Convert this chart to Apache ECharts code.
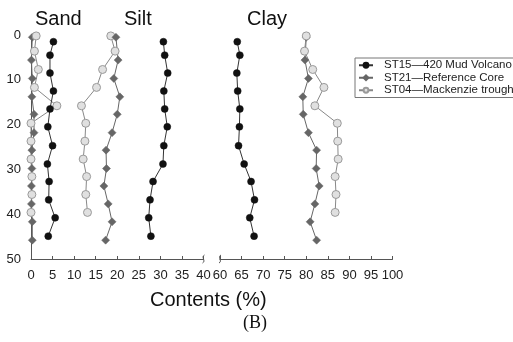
<!DOCTYPE html>
<html>
<head>
<meta charset="utf-8">
<script src="https://cdn.jsdelivr.net/npm/echarts@6/dist/echarts.min.js"></script>
<style>
  html, body { margin: 0; padding: 0; background: #fff; }
  #chart { width: 513px; height: 342px; }
</style>
</head>
<body>
<div id="chart"></div>
<script>
// sampling depths (cm) per core
const depthST15 = [1.5, 4.5, 8.5, 12.5, 16.5, 20.5, 24.7, 28.8, 32.7, 36.8, 40.8, 44.9];
const depthST21 = [0.5, 5.6, 9.7, 13.8, 17.7, 21.8, 25.7, 29.8, 33.7, 37.7, 41.7, 45.8];
const depthST04 = [0.2, 3.6, 7.7, 11.7, 15.8, 19.7, 23.7, 27.7, 31.6, 35.6, 39.6];

// contents (%)
const sandST15 = [5.2, 4.4, 4.4, 5.2, 4.4, 3.9, 5.0, 3.8, 4.2, 4.1, 5.6, 4.0];
const siltST15 = [30.7, 31.0, 31.7, 30.8, 31.0, 31.6, 30.8, 30.6, 28.3, 27.6, 27.3, 27.8];
const clayST15 = [64.0, 64.6, 63.9, 64.1, 64.6, 64.5, 64.3, 65.6, 67.2, 68.0, 66.9, 67.9];

const sandST21 = [0.3, 0.1, 0.3, 0.2, 0.7, 0.7, 0.2, 0.2, 0.1, 0.1, 0.3, 0.3];
const siltST21 = [19.7, 20.2, 19.2, 20.6, 20.0, 18.8, 17.4, 17.5, 16.9, 17.9, 18.8, 17.3];
const clayST21 = [80.0, 79.7, 80.5, 79.2, 79.3, 80.5, 82.4, 82.3, 83.0, 82.0, 80.9, 82.4];

const sandST04 = [1.2, 0.8, 1.7, 0.8, 6.0, 0.0, 0.0, 0.0, 0.2, 0.2, 0.0];
const siltST04 = [18.5, 19.5, 16.6, 15.2, 11.7, 12.7, 12.5, 12.1, 12.9, 12.7, 13.1];
const clayST04 = [80.0, 79.6, 81.5, 84.1, 82.0, 87.2, 87.3, 87.4, 86.7, 86.9, 86.7];

const nameST15 = 'ST15\u2014420 Mud Volcano';
const nameST21 = 'ST21\u2014Reference Core';
const nameST04 = 'ST04\u2014Mackenzie trough';

const groupTitles = ['Sand', 'Silt', 'Clay'];
const yTicks = [0, 10, 20, 30, 40, 50];

const pair = (xs, ys) => xs.map((v, i) => [v, ys[i]]);

const font = 'Liberation Sans, Arial, sans-serif';

const styles = {
  ST15: {
    symbol: 'circle', symbolSize: 7,
    itemStyle: { color: '#111', borderColor: '#111', borderWidth: 0.5 },
    lineStyle: { color: '#333', width: 1 }
  },
  ST21: {
    symbol: 'diamond', symbolSize: 8,
    itemStyle: { color: '#666', borderColor: '#666', borderWidth: 0.5 },
    lineStyle: { color: '#666', width: 1 }
  },
  ST04: {
    symbol: 'circle', symbolSize: 8,
    itemStyle: { color: '#e0e0e0', borderColor: '#9a9a9a', borderWidth: 1 },
    lineStyle: { color: '#888', width: 1 }
  }
};

const mk = (name, key, xs, ys, axis) => Object.assign({
  name: name,
  type: 'line',
  xAxisIndex: axis,
  yAxisIndex: axis,
  data: pair(xs, ys),
  animation: false,
  z: key === 'ST15' ? 4 : 3
}, styles[key]);

const series = [
  mk(nameST21, 'ST21', sandST21, depthST21, 0),
  mk(nameST04, 'ST04', sandST04, depthST04, 0),
  mk(nameST15, 'ST15', sandST15, depthST15, 0),
  mk(nameST04, 'ST04', siltST04, depthST04, 0),
  mk(nameST21, 'ST21', siltST21, depthST21, 0),
  mk(nameST15, 'ST15', siltST15, depthST15, 0),
  mk(nameST15, 'ST15', clayST15, depthST15, 1),
  mk(nameST21, 'ST21', clayST21, depthST21, 1),
  mk(nameST04, 'ST04', clayST04, depthST04, 1)
];

const axisLabel = { color: '#222', fontSize: 13, fontFamily: font, margin: 10 };
const axisLine = { show: true, onZero: false, lineStyle: { color: '#555', width: 1 } };

const chart = echarts.init(document.getElementById('chart'));

const option = {
  backgroundColor: '#fff',
  animation: false,
  title: [
    { text: groupTitles[0], left: 35, top: 9 },
    { text: groupTitles[1], left: 124, top: 9 },
    { text: groupTitles[2], left: 247, top: 9 },
    { text: 'Contents (%)', left: 150, top: 290 },
    { text: '(B)', left: 243, top: 314,
      textStyle: { fontFamily: 'Liberation Serif, Times New Roman, serif', fontSize: 18, fontWeight: 'normal', color: '#111' } }
  ].map(t => Object.assign({ padding: 0 }, t, {
    textStyle: t.textStyle || { fontFamily: font, fontSize: 20, fontWeight: 'normal', color: '#111' }
  })),
  legend: {
    orient: 'vertical',
    left: 355,
    top: 58,
    data: [nameST15, nameST21, nameST04],
    borderColor: '#777',
    borderWidth: 1,
    padding: [1, 4, 1, 3],
    itemWidth: 14,
    itemHeight: 6,
    itemGap: 0,
    textStyle: { fontFamily: font, fontSize: 11.5, color: '#222', lineHeight: 12.5, padding: [0, 0, 0, 6] }
  },
  grid: [
    { left: 31, top: 35, width: 172.5, height: 224 },
    { left: 220, top: 35, width: 172.5, height: 224 }
  ],
  xAxis: [
    {
      type: 'value', gridIndex: 0, min: 0, max: 40, interval: 5,
      position: 'bottom',
      axisLine: axisLine,
      axisTick: { show: true, inside: true, length: 3, lineStyle: { color: '#555' } },
      axisLabel: axisLabel,
      splitLine: { show: false }
    },
    {
      type: 'value', gridIndex: 1, min: 60, max: 100, interval: 5,
      position: 'bottom',
      axisLine: axisLine,
      axisTick: { show: true, inside: true, length: 3, lineStyle: { color: '#555' } },
      axisLabel: axisLabel,
      splitLine: { show: false }
    }
  ],
  yAxis: [
    {
      type: 'value', gridIndex: 0, min: yTicks[0], max: yTicks[yTicks.length - 1], interval: 10,
      inverse: true,
      axisLine: axisLine,
      axisTick: { show: false },
      axisLabel: axisLabel,
      splitLine: { show: false }
    },
    {
      type: 'value', gridIndex: 1, min: 0, max: 50, interval: 10,
      inverse: true, show: false,
      splitLine: { show: false }
    }
  ],
  series: series
};

chart.setOption(option);

// axis break squiggles at 40 and 60
const squiggle = (axisIdx, val) => {
  const px = chart.convertToPixel({ xAxisIndex: axisIdx }, val);
  const py = chart.convertToPixel({ yAxisIndex: axisIdx }, 50);
  return {
    type: 'bezierCurve',
    shape: { x1: px - 1, y1: py + 4, x2: px + 1, y2: py - 4, cpx1: px + 3, cpy1: py + 2, cpx2: px - 3, cpy2: py - 2 },
    style: { stroke: '#555', lineWidth: 1, fill: null },
    z: 10
  };
};

chart.setOption({
  graphic: [squiggle(0, 40), squiggle(1, 60)]
});
</script>
</body>
</html>
